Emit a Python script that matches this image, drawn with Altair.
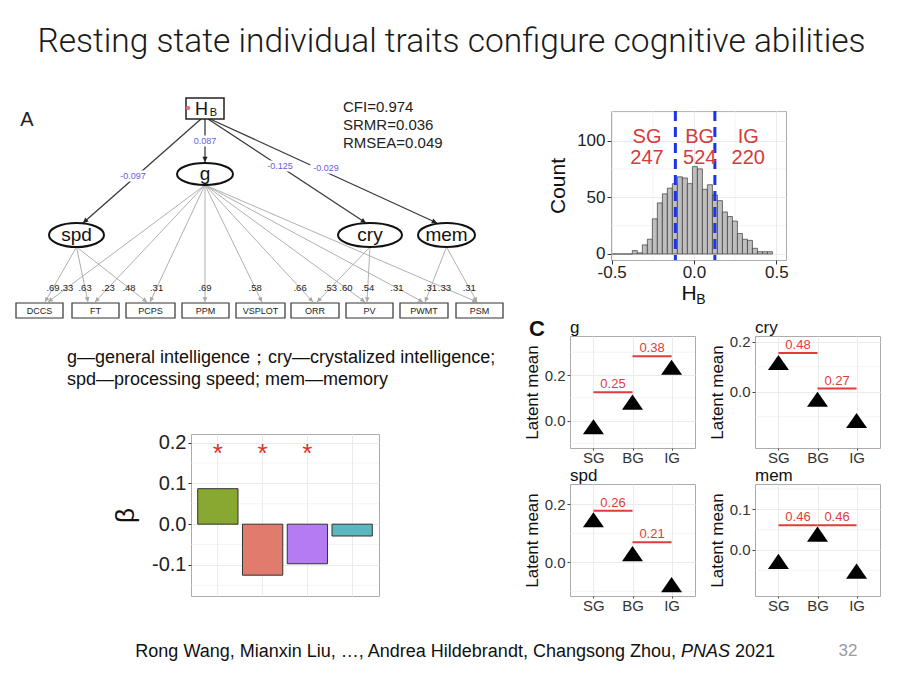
import math
import altair as alt
import pandas as pd

FONT = "Liberation Sans"

# ---------------- slide text ----------------
slide_title = "Resting state individual traits configure cognitive abilities"
citation_parts = ["Rong Wang, Mianxin Liu, …, Andrea Hildebrandt, Changsong Zhou,", "PNAS", "2021"]
page_number = "32"
legend_lines = ["g—general intelligence；cry—crystalized intelligence;",
                "spd—processing speed; mem—memory"]
fit_lines = ["CFI=0.974", "SRMR=0.036", "RMSEA=0.049"]

# ---------------- panel A: SEM path diagram ----------------
latent_names = ["g", "spd", "cry", "mem"]
indicator_names = ["DCCS", "FT", "PCPS", "PPM", "VSPLOT", "ORR", "PV", "PWMT", "PSM"]
struct_to = ["g", "spd", "cry", "mem"]
struct_coef = ["0.087", "-0.097", "-0.125", "-0.029"]
load_from = ["spd", "spd", "spd", "g", "g", "g", "g", "g", "g", "g", "g", "g", "cry", "cry", "mem", "mem"]
load_to = ["DCCS", "FT", "PCPS", "DCCS", "FT", "PCPS", "PPM", "VSPLOT", "ORR", "PV", "PWMT", "PSM",
           "ORR", "PV", "PWMT", "PSM"]
load_val = [".69", ".63", ".48", ".33", ".23", ".31", ".69", ".58", ".66", ".60", ".31", ".33",
            ".53", ".54", ".31", ".31"]

# diagram / slide layout (slide pixel space)
latent_x = [205, 76.5, 370, 446.5]
latent_y = [174, 235, 235, 235]
latent_rx = [28, 27.5, 32, 28.5]
latent_ry = [11, 12, 12, 12]
indicator_left = [16, 72, 126, 182, 236, 291, 346, 400, 456]
indicator_right = [63, 119, 175, 229, 285, 339, 393, 448, 503]
indicator_top, indicator_bottom = 303, 318
hb_left, hb_right, hb_top, hb_bottom = 186, 224, 98, 119
struct_start_x = [205, 201, 208, 210]
struct_tip_x = [205, 83, 366, 437]
struct_tip_y = [162, 223, 223, 223]
struct_label_x = [205, 133, 280, 326]
struct_label_y = [141, 176, 166, 168]
load_tip_x = [45, 88, 147, 48, 95, 150, 205, 262, 313, 365, 423, 477, 317, 367, 425, 477]
load_tip_y = 302
load_label_y = 288

# ---------------- histogram of H_B ----------------
hist_start = -0.496
hist_binwidth = 0.0304
hist_counts = [0, 0, 0, 0, 3, 1, 8, 13, 31, 45, 53, 58, 62, 68, 67, 62, 77, 75, 57, 61, 52, 47,
               37, 33, 29, 18, 13, 12, 5, 2, 2, 2]
cut_points = [-0.113, 0.127]
group_labels = ["SG", "BG", "IG"]
group_counts = ["247", "524", "220"]
group_label_x = [-0.285, 0.035, 0.33]

# ---------------- bar chart of beta ----------------
beta_names = ["g", "cry", "spd", "mem"]
beta_values = [0.087, -0.125, -0.097, -0.029]
beta_colors = ["#88A832", "#E07B6D", "#B57BF2", "#5BB8C0"]
beta_sig = [True, True, True, False]

# ---------------- panel C: latent means ----------------
groups = ["SG", "BG", "IG"]
latent_means = {
    "g": [-0.027, 0.081, 0.234],
    "cry": [0.117, -0.030, -0.115],
    "spd": [0.147, 0.030, -0.077],
    "mem": [-0.028, 0.039, -0.052],
}
comp_from = {"g": ["SG", "BG"], "cry": ["SG", "BG"], "spd": ["SG", "BG"], "mem": ["SG", "BG"]}
comp_to = {"g": ["BG", "IG"], "cry": ["BG", "IG"], "spd": ["BG", "IG"], "mem": ["BG", "IG"]}
comp_y = {"g": [0.124, 0.282], "cry": [0.155, 0.013], "spd": [0.178, 0.069], "mem": [0.061, 0.061]}
comp_label = {"g": ["0.25", "0.38"], "cry": ["0.48", "0.27"], "spd": ["0.26", "0.21"], "mem": ["0.46", "0.46"]}
panel_ydomain = {"g": [-0.12, 0.371], "cry": [-0.225, 0.223], "spd": [-0.116, 0.270], "mem": [-0.113, 0.162]}
panel_major = {"g": [0.0, 0.2], "cry": [0.0, 0.2], "spd": [0.0, 0.2], "mem": [0.0, 0.1]}
panel_minor = {"g": [-0.1, 0.1, 0.3], "cry": [-0.1, 0.1], "spd": [-0.1, 0.1], "mem": [-0.05, 0.05, 0.15]}

FMT1 = "replace(format(datum.value, '.1f'), '\u2212', '-')"
GRID = "#EBEBEB"
BORDER = "#ABABAB"
ARROW = "M0,0L-0.5,-1L0.5,-1Z"
TRI = "M-1,0.72L1,0.72L0,-0.72Z"


def ellipse_path(r):
    k = 0.5523
    return (f"M-1,0C-1,{-k*r:.4f} {-k:.4f},{-r:.4f} 0,{-r:.4f}"
            f"C{k:.4f},{-r:.4f} 1,{-k*r:.4f} 1,0"
            f"C1,{k*r:.4f} {k:.4f},{r:.4f} 0,{r:.4f}"
            f"C{-k:.4f},{r:.4f} -1,{k*r:.4f} -1,0Z")


def arrow_angle(sx, sy, tx, ty):
    return (math.degrees(math.atan2(-(tx - sx), (ty - sy))) + 360.0) % 360.0


def spacer(w, h):
    return alt.Chart(pd.DataFrame({"v": [0]})).mark_rule(opacity=0, strokeWidth=0).encode(
        x=alt.value(0), x2=alt.value(0), y=alt.value(0), y2=alt.value(0)
    ).properties(width=w, height=h)


# ================= Slide canvas (title, panel A, legend, citation) =================
XA = alt.Scale(domain=[8, 108], nice=False, zero=False)
YA = alt.Scale(domain=[8, 108], nice=False, zero=False, reverse=True)


def AX(f):
    return alt.X(f"{f}:Q", scale=XA, axis=None)


def AY(f):
    return alt.Y(f"{f}:Q", scale=YA, axis=None)


pos = {n: (x, y, rx, ry) for n, x, y, rx, ry in zip(latent_names, latent_x, latent_y, latent_rx, latent_ry)}

load_rows = []
for src, dst, val, tip in zip(load_from, load_to, load_val, load_tip_x):
    cx, cy, rx, ry = pos[src]
    sx, sy = cx, cy + ry
    frac = (load_label_y - sy) / (load_tip_y - sy)
    load_rows.append(dict(sx=sx, sy=sy, tx=tip, ty=load_tip_y, lab=val,
                          lx=sx + (tip - sx) * frac, ly=load_label_y,
                          ang=arrow_angle(sx, sy, tip, load_tip_y)))
load_df = pd.DataFrame(load_rows)

struct_rows = []
for dst, coef, sx, tx, ty, lx, ly in zip(struct_to, struct_coef, struct_start_x, struct_tip_x,
                                         struct_tip_y, struct_label_x, struct_label_y):
    w = len(coef) * 4.9 + 2
    struct_rows.append(dict(sx=sx, sy=hb_bottom, tx=tx, ty=ty, lab=coef, lx=lx, ly=ly,
                            bx1=lx - w / 2, bx2=lx + w / 2, by1=ly - 5.5, by2=ly + 5.5,
                            ang=arrow_angle(sx, hb_bottom, tx, ty)))
struct_df = pd.DataFrame(struct_rows)

box_df = pd.DataFrame({
    "x1": indicator_left, "x2": indicator_right,
    "y1": [indicator_top] * len(indicator_names), "y2": [indicator_bottom] * len(indicator_names),
    "name": indicator_names,
    "cx": [(a + b) / 2 for a, b in zip(indicator_left, indicator_right)],
    "cy": [(indicator_top + indicator_bottom) / 2] * len(indicator_names),
})
hb_df = pd.DataFrame({"x1": [hb_left], "x2": [hb_right], "y1": [hb_top], "y2": [hb_bottom]})

lat_df = pd.DataFrame({
    "x": latent_x, "y": latent_y, "name": latent_names,
    "shp": [ellipse_path(ry / rx) for rx, ry in zip(latent_rx, latent_ry)],
    "sz": [(2 * rx) ** 2 for rx in latent_rx],
})


def slide_text(x, y, t, **kw):
    return alt.Chart(pd.DataFrame({"x": [x], "y": [y], "t": [t]})).mark_text(**kw).encode(
        x=AX("x"), y=AY("y"), text="t:N")


canvas_layers = [
    slide_text(451.5, 42, slide_title, font="Roboto", fontWeight=300, fontSize=33.5,
               color="#1a1a1a", align="center", baseline="middle"),
    alt.Chart(load_df).mark_rule(color="#B0B0B0", strokeWidth=1).encode(
        x=AX("sx"), y=AY("sy"), x2="tx:Q", y2="ty:Q"),
    alt.Chart(load_df).mark_point(shape=ARROW, filled=True, color="#A8A8A8", opacity=1, size=90).encode(
        x=AX("tx"), y=AY("ty"), angle=alt.Angle("ang:Q", scale=None)),
    alt.Chart(struct_df).mark_rule(color="#3A3A3A", strokeWidth=1.3).encode(
        x=AX("sx"), y=AY("sy"), x2="tx:Q", y2="ty:Q"),
    alt.Chart(struct_df).mark_rect(color="white").encode(
        x=AX("bx1"), x2="bx2:Q", y=AY("by1"), y2="by2:Q"),
    alt.Chart(struct_df).mark_text(fontSize=9, color="#6A5AE0").encode(
        x=AX("lx"), y=AY("ly"), text="lab:N"),
    alt.Chart(box_df).mark_rect(fill="white", stroke="#333333", strokeWidth=1.2).encode(
        x=AX("x1"), x2="x2:Q", y=AY("y1"), y2="y2:Q"),
    alt.Chart(box_df).mark_text(fontSize=9, color="#222222").encode(
        x=AX("cx"), y=AY("cy"), text="name:N"),
    alt.Chart(hb_df).mark_rect(fill="white", stroke="#222222", strokeWidth=1.5).encode(
        x=AX("x1"), x2="x2:Q", y=AY("y1"), y2="y2:Q"),
    alt.Chart(lat_df).mark_point(filled=True, fill="white", stroke="#111111", strokeWidth=2, opacity=1).encode(
        x=AX("x"), y=AY("y"), shape=alt.Shape("shp:N", scale=None), size=alt.Size("sz:Q", scale=None)),
    alt.Chart(lat_df).mark_text(fontSize=19, color="#111111", baseline="middle").encode(
        x=AX("x"), y=AY("y"), text="name:N"),
    alt.Chart(struct_df).mark_point(shape=ARROW, filled=True, color="#222222", opacity=1, size=110).encode(
        x=AX("tx"), y=AY("ty"), angle=alt.Angle("ang:Q", scale=None)),
    alt.Chart(load_df).mark_text(fontSize=9.5, color="#222222").encode(
        x=AX("lx"), y=AY("ly"), text="lab:N"),
    slide_text(201.5, 110, "H", fontSize=18, color="#111111"),
    slide_text(213.5, 113, "B", fontSize=11, color="#111111"),
    alt.Chart(pd.DataFrame({"x": [188], "y": [108]})).mark_point(
        filled=True, color="#E8657D", opacity=0.9, size=22).encode(x=AX("x"), y=AY("y")),
    alt.Chart(pd.DataFrame({"x": [343] * 3, "y": [107, 125, 143], "t": fit_lines})).mark_text(
        fontSize=15, color="#222222", align="left").encode(x=AX("x"), y=AY("y"), text="t:N"),
    slide_text(27, 120, "A", fontSize=20, color="#222222"),
    alt.Chart(pd.DataFrame({"x": [67, 67], "y": [358, 380], "t": legend_lines})).mark_text(
        fontSize=18, color="#111111", align="left").encode(x=AX("x"), y=AY("y"), text="t:N"),
    slide_text(676, 652, citation_parts[0], fontSize=18, color="#111111", align="right", baseline="middle"),
    slide_text(681, 652, citation_parts[1], fontSize=18, fontStyle="italic", color="#111111",
               align="left", baseline="middle"),
    slide_text(735, 652, citation_parts[2], fontSize=18, color="#111111", align="left", baseline="middle"),
    slide_text(848, 651, page_number, fontSize=17, color="#9A9A9A", align="center", baseline="middle"),
    slide_text(537, 329, "C", fontSize=22, fontWeight="bold", color="#111111", baseline="middle"),
]
canvas = alt.layer(*canvas_layers).properties(width=100, height=100)

# ================= Histogram =================
edges = [hist_start + i * hist_binwidth for i in range(len(hist_counts) + 1)]
hist_df = pd.DataFrame({"lo": edges[:-1], "hi": edges[1:], "count": hist_counts})
HX = alt.Scale(domain=[-0.504, 0.559], nice=False, zero=False)
HY = alt.Scale(domain=[-5.3, 126], nice=False, zero=False)
HXA = alt.Axis(values=[-0.5, 0, 0.5], labelExpr=FMT1, grid=True, gridColor=GRID, tickSize=4,
               tickColor="#333333", labelFontSize=17, labelColor="#222222", labelPadding=0,
               labelFlush=False, labelOverlap=False, domain=False, title=None)
HYA = alt.Axis(values=[0, 50, 100], grid=True, gridColor=GRID, tickSize=4, tickColor="#333333",
               labelFontSize=17, labelColor="#222222", labelPadding=2, labelFlush=False,
               labelOverlap=False, domain=False,
               title="Count", titleFontSize=21, titleFontWeight="normal", titleColor="#111111",
               titlePadding=8)


def hx(f):
    return alt.X(f"{f}:Q", scale=HX, axis=HXA)


def hy(f):
    return alt.Y(f"{f}:Q", scale=HY, axis=HYA)


hist_text_df = pd.DataFrame({"x": group_label_x * 2, "y": [103.5] * 3 + [85] * 3,
                             "t": group_labels + group_counts})
hist_chart = alt.layer(
    alt.Chart(pd.DataFrame({"v": [-0.25, 0.25]})).mark_rule(color=GRID, strokeWidth=0.6).encode(x=hx("v")),
    alt.Chart(pd.DataFrame({"v": [25, 75, 125]})).mark_rule(color=GRID, strokeWidth=0.6).encode(y=hy("v")),
    alt.Chart(hist_df).mark_rect(fill="#BEBEBE", stroke="#3A3A3A", strokeWidth=0.7).encode(
        x=hx("lo"), x2="hi:Q", y=hy("count"), y2=alt.datum(0)),
    alt.Chart(pd.DataFrame({"v": cut_points})).mark_rule(
        color="#1A33E6", strokeWidth=3, strokeDash=[10, 6]).encode(x=hx("v")),
    alt.Chart(hist_text_df).mark_text(fontSize=20, color="#D43B3B").encode(
        x=hx("x"), y=hy("y"), text="t:N"),
    alt.Chart(pd.DataFrame({"t": ["H"]})).mark_text(fontSize=21, color="#111111", baseline="middle").encode(
        x=alt.value(78), y=alt.value(183), text="t:N"),
    alt.Chart(pd.DataFrame({"t": ["B"]})).mark_text(fontSize=14, color="#111111", baseline="middle").encode(
        x=alt.value(90), y=alt.value(189), text="t:N"),
).properties(width=175, height=149, view=alt.ViewBackground(stroke=BORDER, strokeWidth=1))

# ================= Beta bar chart =================
beta_df = pd.DataFrame({"name": beta_names, "beta": beta_values, "col": beta_colors, "sig": beta_sig})
BX = alt.Scale(domain=beta_names, paddingInner=0.1, paddingOuter=0.15)
BY = alt.Scale(domain=[-0.176, 0.221], nice=False, zero=False)
BXA = alt.Axis(labels=False, ticks=False, domain=False, title=None, grid=True, gridColor=GRID,
               bandPosition=0.5)
BYA = alt.Axis(values=[-0.1, 0.0, 0.1, 0.2], labelExpr=FMT1, grid=True, gridColor=GRID, tickSize=3,
               tickColor="#333333", labelFontSize=20, labelColor="#222222", labelPadding=2,
               labelFlush=False, labelOverlap=False,
               domain=False, title="β", titleFontSize=26, titleFontWeight="normal",
               titleColor="#111111", titlePadding=13)
bar_chart = alt.layer(
    alt.Chart(pd.DataFrame({"v": [-0.15, -0.05, 0.05, 0.15]})).mark_rule(color=GRID, strokeWidth=0.6).encode(
        y=alt.Y("v:Q", scale=BY, axis=BYA)),
    alt.Chart(beta_df).mark_bar(stroke="#333333", strokeWidth=1).encode(
        x=alt.X("name:N", scale=BX, axis=BXA, sort=beta_names),
        y=alt.Y("beta:Q", scale=BY, axis=BYA), y2=alt.datum(0),
        color=alt.Color("col:N", scale=None)),
    alt.Chart(beta_df[beta_df["sig"]]).mark_text(text="*", fontSize=26, color="#E0302A", dy=7).encode(
        x=alt.X("name:N", scale=BX, axis=BXA, sort=beta_names),
        y=alt.Y("y:Q", scale=BY, axis=BYA)).transform_calculate(y="0.19"),
).properties(width=188, height=162, view=alt.ViewBackground(stroke=BORDER, strokeWidth=1))


# ================= Panel C =================
def c_panel(name, width):
    XS = alt.Scale(domain=[0.4, 3.6], nice=False, zero=False)
    YS = alt.Scale(domain=panel_ydomain[name], nice=False, zero=False)
    labexpr = "[" + ",".join(f"'{g}'" for g in groups) + "][datum.value - 1]"
    xax = alt.Axis(values=[1, 2, 3], labelExpr=labexpr, grid=True, gridColor=GRID, tickSize=2,
                   tickColor="#444444", labelFontSize=15, labelColor="#333333", labelPadding=0,
                   labelFlush=False, labelOverlap=False, domain=False, title=None)
    yax = alt.Axis(values=panel_major[name], labelExpr=FMT1, grid=True, gridColor=GRID, tickSize=3,
                   tickColor="#444444", labelFontSize=15, labelColor="#333333", labelPadding=2,
                   labelFlush=False, labelOverlap=False,
                   domain=False, title="Latent mean", titleFontSize=17, titleFontWeight="normal",
                   titleColor="#111111", titlePadding=3)
    pts = pd.DataFrame({"gi": [1, 2, 3], "grp": groups, "m": latent_means[name]})
    comps = pd.DataFrame({
        "x1": [groups.index(a) + 1 for a in comp_from[name]],
        "x2": [groups.index(b) + 1 for b in comp_to[name]],
        "y": comp_y[name], "lab": comp_label[name],
    })
    comps["xm"] = (comps["x1"] + comps["x2"]) / 2
    layers = [
        alt.Chart(pd.DataFrame({"v": panel_minor[name]})).mark_rule(color=GRID, strokeWidth=0.6).encode(
            y=alt.Y("v:Q", scale=YS, axis=yax)),
        alt.Chart(comps).mark_rule(color="#E23B3B", strokeWidth=2).encode(
            x=alt.X("x1:Q", scale=XS, axis=xax), x2="x2:Q", y=alt.Y("y:Q", scale=YS, axis=yax)),
        alt.Chart(comps).mark_text(color="#E23B3B", fontSize=13, baseline="bottom", dy=-1).encode(
            x=alt.X("xm:Q", scale=XS, axis=xax), y=alt.Y("y:Q", scale=YS, axis=yax), text="lab:N"),
        alt.Chart(pts).mark_point(shape=TRI, filled=True, color="black", opacity=1, size=441).encode(
            x=alt.X("gi:Q", scale=XS, axis=xax), y=alt.Y("m:Q", scale=YS, axis=yax)),
        alt.Chart(pd.DataFrame({"t": [name]})).mark_text(
            fontSize=17, color="#111111", align="left", baseline="alphabetic").encode(
            x=alt.value(0), y=alt.value(-3), text="t:N"),
    ]
    return alt.layer(*layers).properties(width=width, height=112,
                                          view=alt.ViewBackground(stroke=BORDER, strokeWidth=1))


GRIDLAYOUT = dict(spacing=0, bounds="flush", align="each")
S = spacer

# 2x2 panel C group (nested: occupies no room in the outer flush grid)
c_group = alt.concat(
    c_panel("g", 125), S(60, 1), c_panel("cry", 125),
    S(1, 36), S(1, 1), S(1, 1),
    c_panel("spd", 125), S(60, 1), c_panel("mem", 125),
    columns=3, **GRIDLAYOUT,
)

# outer table: column widths 183 | 379 | 41 | 175 ; row heights 103 | 225 | 98 | 162
cells = [
    canvas, S(379, 103), S(41, 1), S(1, 1),
    S(183, 225), S(1, 1), S(1, 1), hist_chart,
    S(1, 98), S(1, 1), c_group, S(1, 1),
    S(1, 1), bar_chart, S(1, 1), S(1, 1),
]

chart = alt.concat(*cells, columns=4, **GRIDLAYOUT).properties(
    padding=0
).configure(font=FONT, background="white").configure_view(stroke=None)

chart.save("out.html", embed_options={"renderer": "svg", "actions": False})
